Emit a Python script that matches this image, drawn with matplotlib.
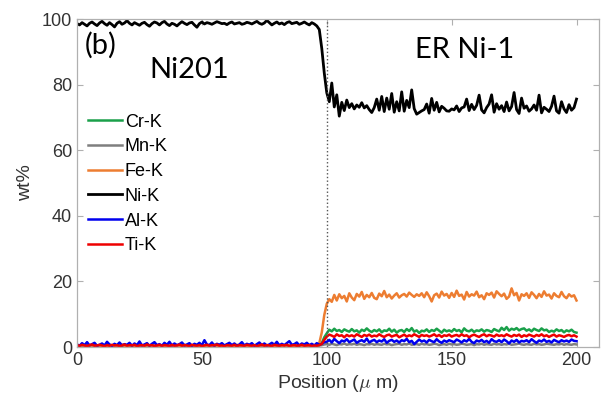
import numpy as np
import matplotlib
matplotlib.use('Agg')
import matplotlib.pyplot as plt

plt.rcParams['font.family'] = ['Liberation Sans', 'DejaVu Sans']
plt.rcParams['mathtext.fontset'] = 'cm'

# line scan, 1 um steps, 0..200 um
position = np.arange(0, 201, 1)

ni = [98.6, 98.2, 98.9, 98.4, 97.9, 98.7, 99.1, 98.5, 98.0, 98.8,
      99.3, 98.6, 98.1, 98.9, 98.3, 97.6, 98.7, 99.2, 98.4, 98.8,
      99.5, 98.7, 98.2, 98.9, 98.5, 98.1, 98.7, 99.0, 98.3, 97.8,
      98.6, 99.1, 98.8, 98.2, 98.9, 99.3, 98.5, 98.0, 98.7, 98.4,
      97.9, 98.6, 99.2, 98.7, 98.3, 98.8, 99.0, 98.2, 97.5, 98.6,
      99.1, 98.5, 98.9, 98.7, 98.4, 98.8, 99.2, 98.9, 98.6, 98.7,
      98.3, 98.8, 99.1, 98.5, 98.7, 98.9, 98.4, 98.6, 99.0, 98.8,
      98.5, 98.9, 99.3, 98.7, 98.4, 98.8, 99.6, 98.9, 98.2, 98.7,
      99.1, 98.5, 98.8, 98.3, 98.9, 99.2, 98.6, 98.8, 99.0, 98.4,
      98.7, 99.1, 98.6, 98.2, 98.9, 98.5, 97.9, 96.8, 91.0, 83.5,
      77.5, 74.8, 80.5, 73.2, 76.9, 70.4, 74.6, 72.1, 75.3, 73.0,
      74.2, 72.6, 73.8, 73.1, 74.5, 72.9, 73.6, 72.4, 71.5, 73.0,
      75.6, 72.2, 76.4, 71.8, 75.9, 72.5, 77.3, 71.6, 74.8, 72.0,
      77.8, 71.9, 75.2, 73.0, 78.4, 72.7, 71.0, 71.5, 72.0, 72.4,
      74.1, 71.3, 75.8, 72.2, 74.6, 71.7, 73.4, 72.8, 72.0, 71.9,
      72.6, 72.3, 73.5, 71.8, 72.9, 73.2, 75.6, 72.1, 74.0, 72.4,
      73.7, 76.8, 72.3, 71.4, 73.0, 74.1, 76.9, 71.6, 74.2, 72.5,
      73.6, 71.8, 74.7, 72.0, 73.3, 77.6, 72.4, 71.2, 75.9, 72.8,
      73.5, 71.9, 72.6, 73.8, 72.2, 76.8, 71.4, 73.1, 72.5, 71.8,
      73.4, 76.5, 72.0, 71.3, 74.8, 72.6, 71.5, 73.9, 72.2, 73.0,
      75.6]

fe = [0.5, 0.3, 0.7, 0.4, 0.6, 0.2, 0.5, 0.8, 0.4, 0.3,
      0.6, 0.5, 0.2, 0.7, 0.4, 0.5, 0.3, 0.6, 0.8, 0.4,
      0.3, 0.5, 0.6, 0.2, 0.4, 0.7, 0.5, 0.3, 0.6, 0.4,
      0.5, 0.8, 0.3, 0.4, 0.6, 0.2, 0.5, 0.7, 0.4, 0.3,
      0.6, 0.4, 0.5, 0.7, 0.3, 0.5, 0.2, 0.6, 0.4, 0.5,
      0.7, 0.3, 0.5, 0.4, 0.6, 0.8, 0.3, 0.5, 0.4, 0.2,
      0.5, 0.6, 0.4, 0.3, 0.7, 0.5, 0.4, 0.6, 0.3, 0.5,
      0.4, 0.2, 0.6, 0.5, 0.3, 0.7, 0.4, 0.5, 0.6, 0.3,
      0.5, 0.7, 0.4, 0.3, 0.6, 0.5, 0.2, 0.4, 0.6, 0.5,
      0.3, 0.6, 0.4, 0.5, 0.7, 0.4, 0.6, 1.2, 4.5, 9.8,
      13.2, 14.6, 13.8, 15.9, 14.2, 16.1, 14.9, 15.6, 13.9, 16.4,
      15.1, 14.3, 16.2, 15.4, 16.8, 14.7, 15.9, 15.2, 16.5, 15.0,
      14.6, 16.3, 15.5, 17.1, 15.2, 16.0, 14.8, 15.7, 16.4, 15.1,
      15.8, 16.2, 15.4, 16.6, 15.9, 15.3, 16.1, 15.6, 16.4, 15.2,
      16.7, 15.5, 13.9, 15.8, 16.3, 15.1, 16.9, 15.7, 16.2, 15.0,
      16.5, 15.3, 17.2, 15.6, 16.0, 14.5, 16.8, 15.4, 16.1, 15.7,
      16.9, 15.2, 15.8, 14.6, 16.4, 15.9, 16.6, 15.1, 17.0, 16.2,
      15.5, 16.3, 14.7, 15.4, 17.9, 15.8, 16.5, 14.2, 16.1, 15.6,
      16.4, 15.0, 16.7, 15.9, 14.9, 16.2, 15.3, 17.0, 15.7, 16.0,
      14.8, 16.4, 15.6, 15.2, 16.8, 15.5, 14.9, 16.1, 15.4, 15.8,
      14.2]

cr = [0.3, 0.5, 0.2, 0.4, 0.3, 0.6, 0.2, 0.4, 0.3, 0.5,
      0.4, 0.2, 0.5, 0.3, 0.4, 0.6, 0.3, 0.2, 0.4, 0.5,
      0.3, 0.4, 0.2, 0.5, 0.3, 0.4, 0.6, 0.2, 0.3, 0.4,
      0.5, 0.3, 0.4, 0.2, 0.6, 0.3, 0.4, 0.5, 0.2, 0.3,
      0.4, 0.6, 0.3, 0.2, 0.5, 0.4, 0.3, 0.5, 0.2, 0.4,
      0.3, 0.5, 0.4, 0.2, 0.3, 0.6, 0.4, 0.3, 0.5, 0.2,
      0.4, 0.3, 0.5, 0.4, 0.2, 0.3, 0.5, 0.4, 0.6, 0.3,
      0.2, 0.4, 0.3, 0.5, 0.4, 0.2, 0.6, 0.3, 0.4, 0.5,
      0.3, 0.2, 0.4, 0.5, 0.3, 0.4, 0.2, 0.5, 0.3, 0.4,
      0.5, 0.3, 0.2, 0.4, 0.3, 0.5, 0.4, 0.6, 1.2, 3.0,
      4.2, 5.3, 4.8, 5.6, 4.9, 5.2, 4.6, 5.4, 5.0, 4.7,
      5.5, 4.8, 5.1, 4.4, 5.3, 4.9, 5.7, 5.0, 4.6, 5.2,
      4.8, 5.4, 4.5, 5.1, 4.9, 5.6, 4.7, 5.3, 4.4, 5.0,
      5.2, 4.6, 5.5, 4.9, 5.8, 4.7, 5.1, 4.3, 5.0, 4.8,
      5.4, 4.6, 5.2, 4.9, 5.6, 5.0, 4.4, 5.3, 4.8, 5.1,
      4.7, 5.5, 4.9, 5.2, 4.5, 5.7, 5.0, 4.8, 5.3, 4.6,
      5.1, 4.9, 5.4, 4.7, 5.2, 5.0, 4.6, 5.5, 5.1, 4.8,
      5.9, 5.2, 6.1, 5.0, 5.6, 5.3, 5.8, 5.1, 5.5, 5.7,
      5.0, 5.4, 4.8, 5.6, 5.2, 4.9, 5.7, 5.1, 5.3, 4.6,
      5.0, 4.7, 5.4, 4.9, 5.2, 4.5, 5.1, 4.8, 5.3, 4.6,
      4.4]

ti = [0.6, 0.4, 0.7, 0.5, 0.3, 0.6, 0.8, 0.4, 0.5, 0.7,
      0.5, 0.3, 0.6, 0.4, 0.7, 0.5, 0.6, 0.3, 0.5, 0.8,
      0.4, 0.6, 0.5, 0.7, 0.3, 0.5, 0.6, 0.4, 0.8, 0.5,
      0.6, 0.3, 0.5, 0.7, 0.4, 0.6, 0.5, 0.3, 0.7, 0.4,
      0.5, 0.8, 0.4, 0.6, 0.5, 0.3, 0.7, 0.5, 0.4, 0.6,
      0.3, 0.5, 0.7, 0.4, 0.6, 0.5, 0.8, 0.4, 0.5, 0.3,
      0.6, 0.5, 0.4, 0.7, 0.3, 0.6, 0.5, 0.4, 0.7, 0.5,
      0.4, 0.6, 0.3, 0.5, 0.8, 0.4, 0.6, 0.5, 0.3, 0.7,
      0.5, 0.4, 0.6, 0.5, 0.7, 0.3, 0.5, 0.6, 0.4, 0.5,
      0.7, 0.4, 0.5, 0.6, 0.3, 0.5, 0.4, 0.6, 1.0, 2.2,
      3.2, 3.8, 3.5, 3.1, 3.9, 3.4, 3.6, 3.0, 3.7, 3.3,
      3.6, 3.2, 3.9, 3.5, 3.1, 3.7, 3.4, 3.8, 3.2, 3.5,
      3.3, 3.9, 3.4, 3.1, 3.6, 3.8, 3.2, 3.5, 3.7, 3.0,
      3.4, 3.8, 3.2, 3.6, 3.3, 3.9, 3.5, 3.1, 3.7, 3.4,
      3.6, 3.2, 3.5, 3.9, 3.3, 3.7, 3.1, 3.6, 3.4, 3.8,
      3.2, 3.5, 3.7, 3.3, 3.9, 3.4, 3.6, 3.0, 3.5, 3.8,
      3.4, 3.1, 3.6, 3.9, 3.3, 3.7, 3.5, 3.2, 3.8, 3.4,
      3.6, 3.3, 3.9, 3.5, 3.2, 3.7, 3.4, 3.8, 3.1, 3.6,
      3.3, 3.8, 3.5, 3.2, 3.7, 3.4, 3.9, 3.3, 3.6, 3.1,
      3.5, 3.8, 3.2, 3.6, 3.4, 3.1, 3.5, 3.7, 3.3, 3.6,
      3.2]

al = [0.8, 0.4, 1.2, 0.6, 1.5, 0.5, 0.9, 1.3, 0.4, 0.7,
      1.1, 0.5, 1.6, 0.8, 0.4, 1.0, 0.6, 1.4, 0.5, 0.9,
      0.7, 1.3, 0.4, 1.1, 0.6, 1.7, 0.5, 0.8, 1.2, 0.4,
      1.0, 1.5, 0.6, 0.9, 0.4, 1.3, 0.7, 1.6, 0.5, 1.1,
      0.6, 0.9, 1.4, 0.5, 0.8, 1.2, 0.4, 1.0, 0.7, 1.3,
      0.5, 2.1, 0.8, 0.6, 1.4, 0.4, 1.0, 0.7, 1.2, 0.5,
      0.9, 1.3, 0.6, 1.1, 0.4, 0.8, 1.5, 0.5, 1.0, 0.7,
      1.2, 0.4, 0.9, 1.4, 0.6, 1.1, 0.5, 0.8, 1.3, 0.7,
      1.6, 0.5, 1.0, 0.6, 1.2, 1.8, 0.7, 0.9, 1.4, 0.5,
      1.1, 0.8, 1.3, 0.6, 1.0, 0.5, 1.2, 0.7, 1.0, 1.5,
      1.6, 2.2, 1.4, 2.5, 1.8, 1.2, 2.0, 1.7, 2.4, 1.5,
      1.9, 2.3, 1.3, 1.8, 2.1, 1.6, 2.6, 1.4, 1.9, 2.2,
      1.5, 2.0, 1.7, 2.4, 1.3, 1.9, 2.2, 1.6, 2.0, 1.4,
      2.1, 1.8, 2.5, 1.5, 1.9, 0.9, 1.6, 2.3, 1.7, 2.0,
      1.4, 2.2, 1.8, 1.5, 2.4, 1.7, 1.3, 2.0, 1.6, 2.1,
      1.8, 1.5, 2.3, 1.9, 1.4, 2.1, 1.7, 2.5, 1.6, 1.2,
      2.0, 1.7, 2.2, 1.5, 1.9, 1.3, 2.4, 1.8, 1.6, 2.1,
      1.5, 2.3, 1.8, 1.1, 2.0, 1.6, 2.2, 1.4, 1.9, 1.7,
      2.1, 1.5, 2.4, 1.8, 1.3, 2.0, 1.7, 2.3, 1.6, 1.9,
      1.4, 2.2, 1.8, 1.5, 2.1, 1.7, 2.0, 1.6, 2.3, 1.9,
      1.8]

mn = [0.4, 0.3, 0.5, 0.4, 0.2, 0.4, 0.5, 0.3, 0.4, 0.3,
      0.5, 0.4, 0.3, 0.2, 0.4, 0.5, 0.3, 0.4, 0.2, 0.4,
      0.3, 0.5, 0.4, 0.3, 0.4, 0.2, 0.5, 0.4, 0.3, 0.4,
      0.4, 0.2, 0.3, 0.5, 0.4, 0.3, 0.4, 0.2, 0.5, 0.3,
      0.3, 0.4, 0.5, 0.3, 0.2, 0.4, 0.3, 0.5, 0.4, 0.3,
      0.5, 0.3, 0.4, 0.2, 0.4, 0.3, 0.5, 0.4, 0.3, 0.4,
      0.2, 0.4, 0.3, 0.5, 0.3, 0.4, 0.2, 0.4, 0.5, 0.3,
      0.4, 0.3, 0.5, 0.2, 0.4, 0.3, 0.4, 0.5, 0.3, 0.2,
      0.3, 0.5, 0.4, 0.3, 0.4, 0.2, 0.5, 0.3, 0.4, 0.3,
      0.4, 0.3, 0.5, 0.4, 0.2, 0.4, 0.3, 0.5, 0.6, 0.8,
      0.9, 0.7, 1.0, 0.8, 0.6, 0.9, 0.8, 1.1, 0.7, 0.9,
      0.8, 1.0, 0.7, 0.9, 0.8, 0.6, 0.9, 0.8, 1.0, 0.7,
      0.9, 0.8, 0.7, 1.0, 0.8, 0.9, 0.6, 0.8, 0.9, 1.0,
      0.7, 0.9, 0.8, 1.1, 0.7, 0.8, 0.9, 0.7, 1.0, 0.8,
      0.9, 0.7, 0.8, 1.0, 0.9, 0.6, 0.8, 0.9, 0.7, 1.0,
      0.8, 0.9, 0.7, 0.8, 1.0, 0.9, 0.7, 0.8, 0.9, 0.6,
      0.9, 0.8, 1.0, 0.7, 0.9, 0.8, 0.7, 1.0, 0.8, 0.9,
      0.7, 0.9, 0.8, 1.0, 0.7, 0.8, 0.9, 1.1, 0.8, 0.7,
      0.9, 0.8, 0.7, 1.0, 0.8, 0.9, 0.7, 0.8, 1.0, 0.9,
      0.8, 0.7, 0.9, 0.8, 1.0, 0.7, 0.9, 0.8, 0.7, 0.9,
      0.8]

series = [('Cr-K', cr, '#1aa04a'), ('Mn-K', mn, '#7f7f7f'), ('Fe-K', fe, '#ed7d31'),
          ('Ni-K', ni, 'black'), ('Al-K', al, '#0000ee'), ('Ti-K', ti, '#ee0000')]

fig = plt.figure(figsize=(6.02, 4.05), dpi=100)
ax = fig.add_axes([0.128, 0.143, 0.867, 0.81])

for name, vals, col in series:
    ax.plot(position, vals, color=col, lw=2.0 if name == 'Ni-K' else 1.8, label=name)

ax.axvline(100, color='#555555', ls=':', lw=1.0)

ax.set_xlim(0, 209)
ax.set_ylim(0, 100)
ax.set_xticks([0, 50, 100, 150, 200])
ax.set_yticks([0, 20, 40, 60, 80, 100])
ax.tick_params(direction='in', top=True, right=True, labelsize=13,
               colors='#b0b0b0', labelcolor='#333333', length=4, width=0.8)
for s in ax.spines.values():
    s.set_color('#b0b0b0')
    s.set_linewidth(0.9)

ax.set_xlabel(r'Position ($\mu$ m)', fontsize=14, color='#333333', labelpad=3)
ax.set_ylabel('wt%', fontsize=14, color='#333333', labelpad=6)

ax.text(3, 92, '(b)', fontsize=21, family=['Lato', 'DejaVu Sans'], va='center', ha='left')
ax.text(45, 84.5, 'Ni201', fontsize=21, family=['Lato', 'DejaVu Sans'], va='center', ha='center')
ax.text(155, 90.5, 'ER Ni-1', fontsize=21, family=['Lato', 'DejaVu Sans'], va='center', ha='center')

ax.legend(loc='upper left', bbox_to_anchor=(0.0, 0.745), frameon=False, fontsize=13,
          handlelength=1.9, handletextpad=0.15, labelspacing=0.43, borderaxespad=0.2)

fig.savefig('out.png', dpi=100)
